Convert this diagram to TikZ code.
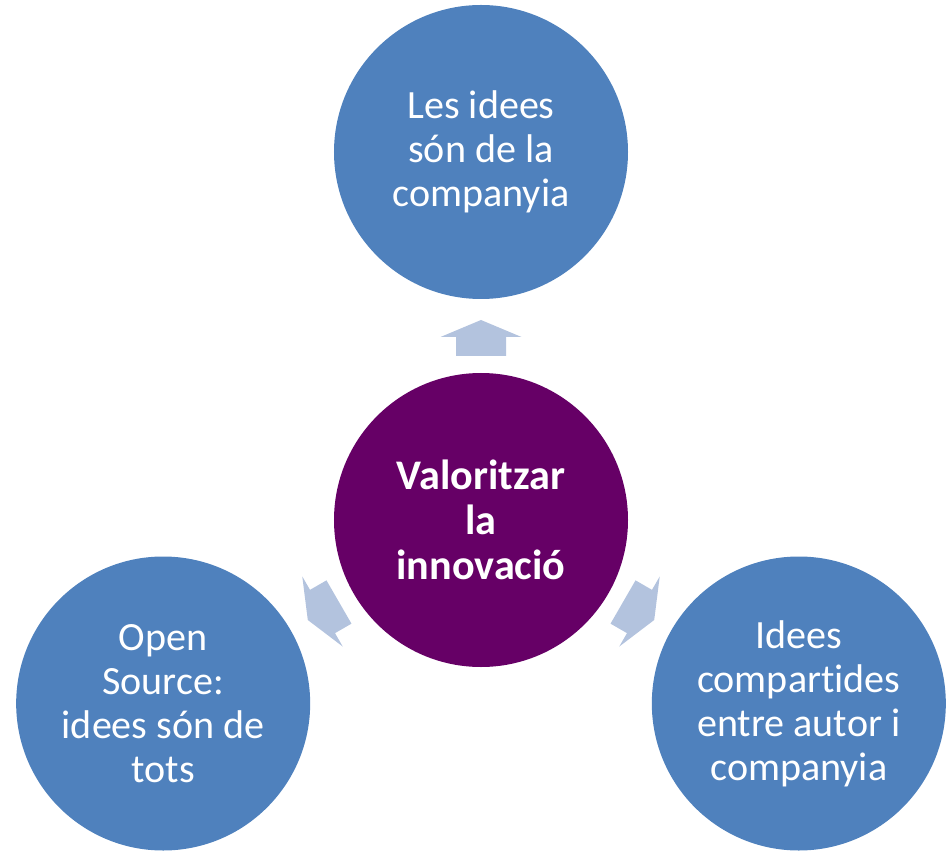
\documentclass[tikz,border=0pt]{standalone}
\usepackage{fontspec}
\setmainfont[Ligatures=NoCommon]{Carlito}
\definecolor{ideablue}{HTML}{4F81BD}
\definecolor{corepurple}{HTML}{660066}
\definecolor{arrowblue}{HTML}{B3C3DE}

\begin{document}
\begin{tikzpicture}[x=10mm,y=10mm,
    bubble/.style={circle,minimum size=58.8mm,inner sep=0pt,align=center,
      text=white,font=\fontsize{22.8}{25}\selectfont},
    idea/.style={bubble,fill=ideablue},
    core/.style={bubble,fill=corepurple,font=\fontsize{24}{25.5}\selectfont\bfseries},
    blockarrow/.style={fill=arrowblue}]
    \useasboundingbox (-9.62,-6.6) rectangle (9.38,10.4);
    \node[core] (core) at (0,0) {Valoritzar\\la\\innovació};
    \node[idea] (top) at (90:7.36) {Les idees\\són de la\\companyia};
    \node[idea] (left) at (210:7.34) {Open\\Source:\\idees són de\\tots};
    \node[idea] (right) at (330:7.34) {Idees\\compartides\\entre autor i\\companyia};
    \foreach \a in {90,210,330}
      \fill[blockarrow,rotate=\a-90] (-0.5,3.28) -- (-0.5,3.66) -- (-0.81,3.66)
        -- (0,4.0) -- (0.81,3.66) -- (0.5,3.66) -- (0.5,3.28) -- cycle;
  \end{tikzpicture}
\end{document}
